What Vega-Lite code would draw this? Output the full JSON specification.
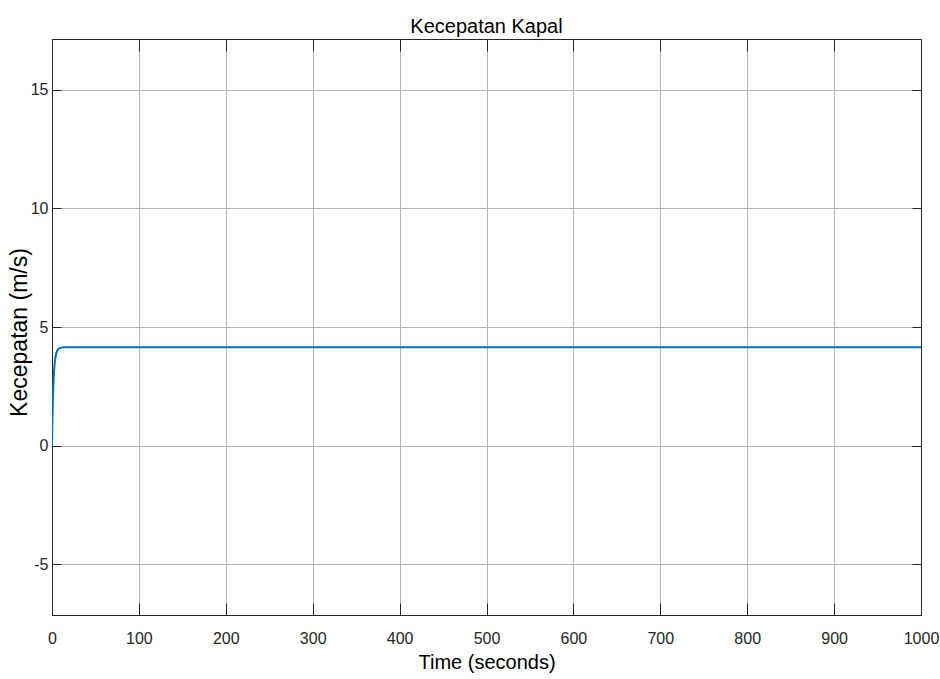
{
  "$schema": "https://vega.github.io/schema/vega-lite/v6.json",
  "autosize": "none",
  "width": 869,
  "height": 576,
  "padding": {"left": 52, "top": 39, "right": 19, "bottom": 64},
  "background": "white",
  "config": {
    "view": {"stroke": "#262626", "strokeWidth": 1},
    "font": "Liberation Sans"
  },
  "title": {
    "text": "Kecepatan Kapal",
    "font": "Liberation Sans",
    "fontSize": 20,
    "fontWeight": "normal",
    "color": "#000000",
    "anchor": "middle",
    "frame": "group",
    "baseline": "alphabetic",
    "offset": 10,
    "dy": 24
  },
  "data": {
    "values": [
      {"t": 0, "v": 0},
      {"t": 0.5, "v": 1.1},
      {"t": 1, "v": 1.9},
      {"t": 1.5, "v": 2.5},
      {"t": 2, "v": 2.9},
      {"t": 2.5, "v": 3.2},
      {"t": 3, "v": 3.45},
      {"t": 4, "v": 3.72},
      {"t": 5, "v": 3.9},
      {"t": 6, "v": 4.0},
      {"t": 7, "v": 4.06},
      {"t": 8, "v": 4.09},
      {"t": 10, "v": 4.12},
      {"t": 12, "v": 4.14},
      {"t": 15, "v": 4.15},
      {"t": 20, "v": 4.15},
      {"t": 50, "v": 4.15},
      {"t": 100, "v": 4.15},
      {"t": 200, "v": 4.15},
      {"t": 300, "v": 4.15},
      {"t": 400, "v": 4.15},
      {"t": 500, "v": 4.15},
      {"t": 600, "v": 4.15},
      {"t": 700, "v": 4.15},
      {"t": 800, "v": 4.15},
      {"t": 900, "v": 4.15},
      {"t": 1000, "v": 4.15}
    ]
  },
  "layer": [
    {
      "mark": {"type": "line", "color": "#0072BD", "strokeWidth": 2, "clip": true},
      "encoding": {
        "x": {
          "field": "t", "type": "quantitative",
          "scale": {"domain": [0, 1000], "nice": false, "zero": false},
          "axis": {
            "orient": "bottom",
            "values": [0,100,200,300,400,500,600,700,800,900,1000],
            "labelExpr": "toString(datum.value)",
            "title": "Time (seconds)",
            "titleFont": "Liberation Sans",
            "titleFontSize": 20,
            "titleFontWeight": "normal",
            "titleColor": "#000000",
            "titleBaseline": "alphabetic",
            "titleX": 434.5,
            "titleY": 53,
            "titleAnchor": null,
            "labelFont": "Liberation Sans",
            "labelFontSize": 16,
            "labelColor": "#262626",
            "labelBaseline": "top",
            "labelPadding": 27,
            "labelFlush": false,
            "labelOverlap": false,
            "ticks": true,
            "tickSize": -12,
            "tickColor": "#262626",
            "domain": true,
            "domainColor": "#262626",
            "grid": true,
            "gridColor": "#b4b4b4",
            "gridWidth": 1,
            "gridOpacity": 1
          }
        },
        "y": {
          "field": "v", "type": "quantitative",
          "scale": {"domain": [-7.15, 17.15], "nice": false, "zero": false},
          "axis": {
            "orient": "left",
            "values": [-5, 0, 5, 10, 15],
            "labelExpr": "toString(datum.value)",
            "title": "Kecepatan (m/s)",
            "titleFont": "Liberation Sans",
            "titleFontSize": 23,
            "titleFontWeight": "normal",
            "titleColor": "#000000",
            "titleAngle": -90,
            "titleBaseline": "alphabetic",
            "titleAlign": "center",
            "titleX": -26,
            "titleY": 293,
            "labelFont": "Liberation Sans",
            "labelFontSize": 16,
            "labelColor": "#262626",
            "labelPadding": 13,
            "labelFlush": false,
            "ticks": true,
            "tickSize": -9,
            "tickColor": "#262626",
            "domain": true,
            "domainColor": "#262626",
            "grid": true,
            "gridColor": "#b4b4b4",
            "gridWidth": 1,
            "gridOpacity": 1
          }
        }
      }
    },
    {
      "mark": {"type": "line", "opacity": 0},
      "encoding": {
        "x": {
          "field": "t", "type": "quantitative",
          "axis": {
            "orient": "top",
            "values": [0,100,200,300,400,500,600,700,800,900,1000],
            "title": null,
            "labels": false,
            "ticks": true,
            "tickSize": -12,
            "tickColor": "#262626",
            "domain": true,
            "domainColor": "#262626",
            "grid": false
          }
        },
        "y": {
          "field": "v", "type": "quantitative",
          "axis": {
            "orient": "right",
            "values": [-5, 0, 5, 10, 15],
            "title": null,
            "labels": false,
            "ticks": true,
            "tickSize": -9,
            "tickColor": "#262626",
            "domain": true,
            "domainColor": "#262626",
            "grid": false
          }
        }
      }
    }
  ],
  "resolve": {"axis": {"x": "independent", "y": "independent"}}
}
